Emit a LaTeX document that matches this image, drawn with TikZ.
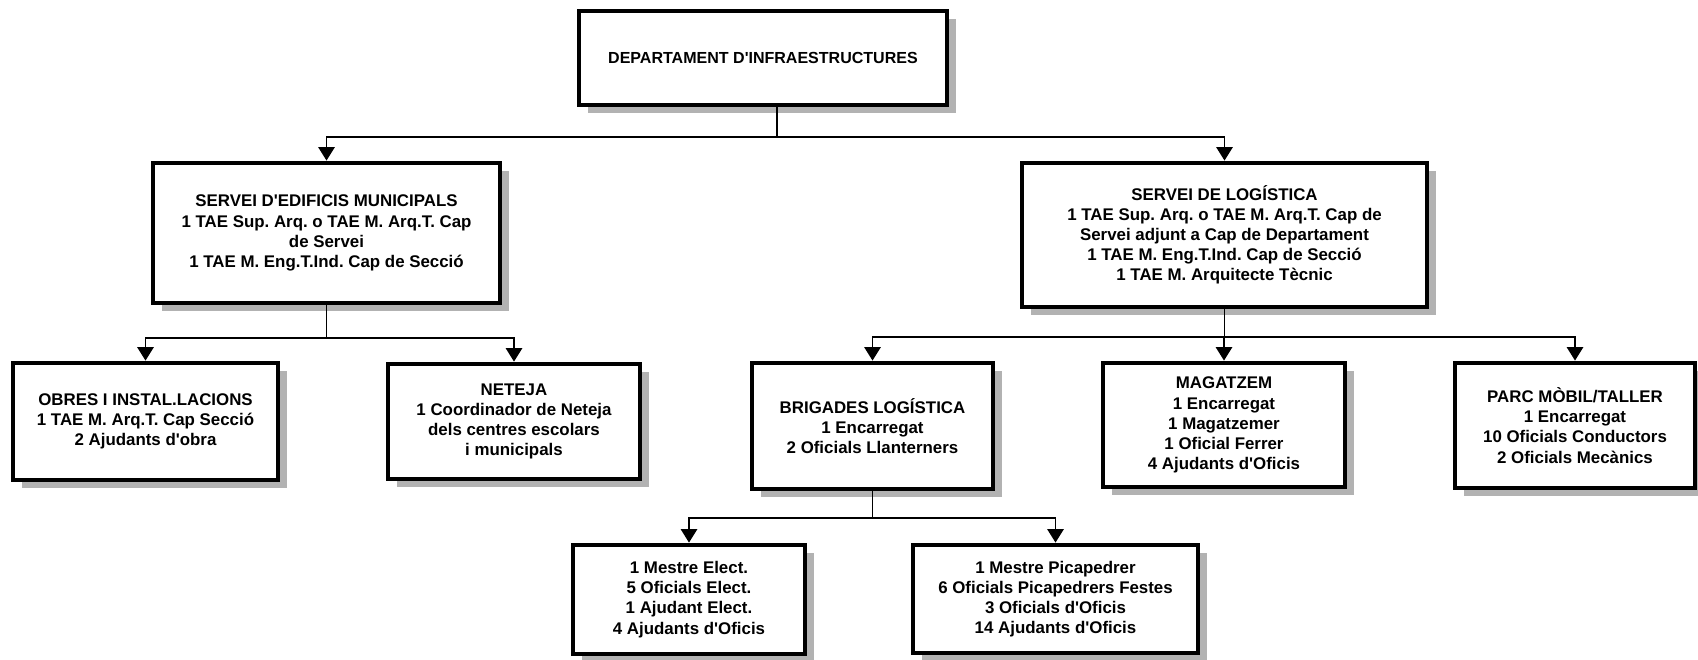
\documentclass[tikz,border=0pt]{standalone}
\usepackage{fontspec}
\setmainfont{Liberation Sans}
\usetikzlibrary{arrows.meta,shadows}
\newcommand{\ap}{\textquotesingle}
\frenchspacing

\begin{document}
\begin{tikzpicture}[x=0.025cm, y=-0.025cm,
  orgbox/.style={rectangle, draw, line width=3.4pt, fill=white, align=center, inner sep=2pt,
    font=\fontsize{12}{14.3}\selectfont\bfseries,
    drop shadow={shadow xshift=0.22cm, shadow yshift=-0.2cm, fill=black!30, opacity=1}},
  link/.style={line width=1.3pt},
  arr/.style={link, -{Triangle[length=9.5pt, width=11.5pt]}}
]
  \useasboundingbox (0,0) rectangle (1698,659);

  \node[orgbox, minimum width=9.2cm, minimum height=2.35cm, font=\fontsize{11.4}{14}\selectfont\bfseries] (dept) at (763,58) {DEPARTAMENT D\ap INFRAESTRUCTURES};

  \node[orgbox, minimum width=8.675cm, minimum height=3.5cm] (edif) at (326.5,233) {SERVEI D\ap EDIFICIS MUNICIPALS\\1 TAE Sup. Arq. o TAE M. Arq.T. Cap\\de Servei\\1 TAE M. Eng.T.Ind. Cap de Secció};
  \node[orgbox, minimum width=10.125cm, minimum height=3.6cm] (logi) at (1224.5,235) {SERVEI DE LOGÍSTICA\\1 TAE Sup. Arq. o TAE M. Arq.T. Cap de\\Servei adjunt a Cap de Departament\\1 TAE M. Eng.T.Ind. Cap de Secció\\1 TAE M. Arquitecte Tècnic};

  \node[orgbox, minimum width=6.625cm, minimum height=2.925cm] (obres) at (145.5,421.5) {OBRES I INSTAL.LACIONS\\1 TAE M. Arq.T. Cap Secció\\2 Ajudants d\ap obra};
  \node[orgbox, minimum width=6.3cm, minimum height=2.875cm] (neteja) at (514,421.5) {NETEJA\\1 Coordinador de Neteja\\dels centres escolars\\i municipals};
  \node[orgbox, minimum width=6.025cm, minimum height=3.15cm] (brig) at (872.5,426) {BRIGADES LOGÍSTICA\\1 Encarregat\\2 Oficials Llanterners};
  \node[orgbox, minimum width=6.05cm, minimum height=3.1cm] (magat) at (1224,425) {MAGATZEM\\1 Encarregat\\1 Magatzemer\\1 Oficial Ferrer\\4 Ajudants d\ap Oficis};
  \node[orgbox, minimum width=6cm, minimum height=3.125cm] (parc) at (1575,425.5) {PARC MÒBIL/TALLER\\1 Encarregat\\10 Oficials Conductors\\2 Oficials Mecànics};

  \node[orgbox, minimum width=5.8cm, minimum height=2.725cm] (elec) at (689,599.5) {1 Mestre Elect.\\5 Oficials Elect.\\1 Ajudant Elect.\\4 Ajudants d\ap Oficis};
  \node[orgbox, minimum width=7.125cm, minimum height=2.7cm] (pica) at (1055.5,599) {1 Mestre Picapedrer\\6 Oficials Picapedrers Festes\\3 Oficials d\ap Oficis\\14 Ajudants d\ap Oficis};

  % connectors
  \coordinate (j0) at (777,137);
  \draw[link] (dept.south -| j0) -- (j0);
  \draw[arr] (j0) -| (edif);
  \draw[arr] (j0) -| (logi);

  \coordinate (j1) at (326.5,338);
  \draw[link] (edif) -- (j1);
  \draw[arr] (j1) -| (obres);
  \draw[arr] (j1) -| (neteja);

  \coordinate (j2) at (1224.5,337);
  \draw[link] (logi) -- (j2);
  \draw[arr] (j2) -| (brig);
  \draw[arr] (j2) -| (magat);
  \draw[arr] (j2) -| (parc);

  \coordinate (j3) at (872.5,518);
  \draw[link] (brig) -- (j3);
  \draw[arr] (j3) -| (elec);
  \draw[arr] (j3) -| (pica);
\end{tikzpicture}
\end{document}
